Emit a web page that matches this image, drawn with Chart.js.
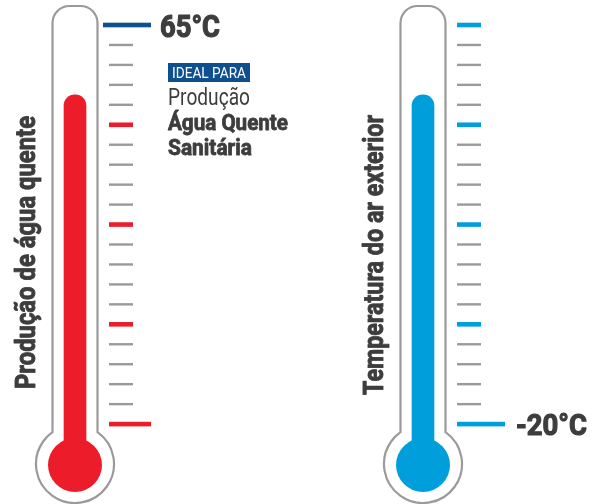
<!DOCTYPE html>
<html>
<head>
<meta charset="utf-8">
<script src="https://cdn.jsdelivr.net/npm/chart.js@4/dist/chart.umd.min.js"></script>
<style>
  html, body { margin: 0; padding: 0; background: #fff; }
  canvas { display: block; }
</style>
</head>
<body>
<canvas id="thermoChart" width="603" height="504"></canvas>
<script>
// thermometer data
const categories = ['Produção de água quente', 'Temperatura do ar exterior'];
const fillLevels = [16.5, 16.5];
const baseLevel = -2;
const tickLevels = [20, 19, 18, 17, 16, 15, 14, 13, 12, 11, 10, 9, 8, 7, 6, 5, 4, 3, 2, 1, 0];
const majorLevels = [20, 15, 10, 5, 0];
const scaleLabels = ['65°C', '-20°C'];
const scaleLabelLevels = [20, 0];
const noteLines = ['IDEAL PARA', 'Produção', 'Água Quente', 'Sanitária'];

const RED = '#ed1c2a';
const BLUE = '#009edb';
const NAVY = '#0d4f8f';
const GRAY = '#9a9a9a';
const TEXT = '#3d3d3d';
const fillColors = [RED, BLUE];

const FONT = 'Roboto, "Liberation Sans", sans-serif';

// draw text squeezed to a given width (condensed look), optional extra stroke for heavier weight
function fitText(ctx, txt, x, y, size, weight, width, align, color, heavy) {
    ctx.save();
    ctx.font = weight + ' ' + size + 'px ' + FONT;
    const w = ctx.measureText(txt).width;
    ctx.translate(x, y);
    ctx.scale(width / w, 1);
    ctx.textAlign = align || 'left';
    ctx.textBaseline = 'alphabetic';
    ctx.fillStyle = color || TEXT;
    ctx.fillText(txt, 0, 0);
    if (heavy) {
        ctx.lineWidth = heavy;
        ctx.lineJoin = 'round';
        ctx.strokeStyle = color || TEXT;
        ctx.strokeText(txt, 0, 0);
    }
    ctx.restore();
}

function tubePath(ctx, cx, top, hw, r, bulbY, bulbR) {
    const a = Math.asin(hw / bulbR);
    const join = bulbY - Math.sqrt(bulbR * bulbR - hw * hw);
    ctx.beginPath();
    ctx.moveTo(cx - hw, join);
    ctx.lineTo(cx - hw, top + r);
    ctx.arcTo(cx - hw, top, cx, top, r);
    ctx.arcTo(cx + hw, top, cx + hw, top + r, r);
    ctx.lineTo(cx + hw, join);
    ctx.arc(cx, bulbY, bulbR, -Math.PI / 2 + a, Math.PI * 1.5 - a, false);
    ctx.closePath();
}

const thermoPlugin = {
    id: 'thermo',
    beforeDatasetsDraw(chart) {
        const ctx = chart.ctx;
        const x = chart.scales.x;
        const y = chart.scales.y;
        const bulbY = y.getPixelForValue(baseLevel);
        categories.forEach((c, i) => {
            const cx = x.getPixelForValue(i);
            ctx.save();
            tubePath(ctx, cx, 6, 22.5, 17, bulbY, 39);
            ctx.fillStyle = '#fff';
            ctx.fill();
            ctx.lineWidth = 2.2;
            ctx.strokeStyle = GRAY;
            ctx.stroke();
            ctx.restore();
        });
    },
    afterDatasetsDraw(chart) {
        const ctx = chart.ctx;
        const x = chart.scales.x;
        const y = chart.scales.y;
        const bulbY = y.getPixelForValue(baseLevel);

        categories.forEach((c, i) => {
            const cx = x.getPixelForValue(i);
            // bulb
            ctx.beginPath();
            ctx.arc(cx, bulbY + 1, 27, 0, Math.PI * 2);
            ctx.fillStyle = fillColors[i];
            ctx.fill();

            // scale ticks
            tickLevels.forEach(lv => {
                const ty = y.getPixelForValue(lv);
                const major = majorLevels.includes(lv);
                let x0 = cx + 34, x1 = cx + 58;
                let col = major ? fillColors[i] : GRAY;
                if (lv === 0) {
                    x1 = cx + (i === 0 ? 76 : 82);
                }
                if (i === 0 && lv === 20) {
                    x0 = cx + 28; x1 = cx + 76; col = NAVY;
                }
                ctx.fillStyle = col;
                const h = major ? 4.6 : 2.4;
                ctx.fillRect(x0, ty - h / 2, x1 - x0, h);
            });

            // scale label
            const ly = y.getPixelForValue(scaleLabelLevels[i]);
            if (i === 0) {
                fitText(ctx, scaleLabels[i], cx + 85, ly + 12, 31, 'bold', 60, 'left', TEXT, 1.2);
            } else {
                fitText(ctx, scaleLabels[i], cx + 93, ly + 10.5, 30, 'bold', 71, 'left', TEXT, 1.2);
            }

            // vertical axis title
            ctx.save();
            ctx.translate(cx - 40, i === 0 ? 252.5 : 255);
            ctx.rotate(-Math.PI / 2);
            fitText(ctx, c, 0, 0, 28, 'bold', i === 0 ? 273 : 280, 'center', TEXT, 0.9);
            ctx.restore();
        });

        // note block
        const nx = x.getPixelForValue(0) + 93;
        ctx.fillStyle = NAVY;
        ctx.fillRect(nx, 63, 82, 19);
        fitText(ctx, noteLines[0], nx + 4, 78, 14, 'normal', 74, 'left', '#fff');
        fitText(ctx, noteLines[1], nx, 105, 23, 'normal', 82);
        fitText(ctx, noteLines[2], nx, 130, 22, 'bold', 120, 'left', TEXT, 0.8);
        fitText(ctx, noteLines[3], nx, 155, 22, 'bold', 84, 'left', TEXT, 0.8);
    }
};

new Chart(document.getElementById('thermoChart'), {
    type: 'bar',
    data: {
        labels: categories,
        datasets: [{
            data: fillLevels.map(v => [baseLevel, v]),
            backgroundColor: fillColors,
            barThickness: 22,
            borderRadius: { topLeft: 11, topRight: 11, bottomLeft: 0, bottomRight: 0 },
            borderSkipped: false,
            clip: false
        }]
    },
    options: {
        responsive: false,
        animation: false,
        devicePixelRatio: 1,
        layout: { padding: { left: 75, right: 180, top: 25, bottom: 40 } },
        scales: {
            x: { type: 'category', offset: false, display: false },
            y: { min: baseLevel, max: 20, display: false }
        },
        plugins: {
            legend: { display: false },
            tooltip: { enabled: false }
        }
    },
    plugins: [thermoPlugin]
});
</script>
</body>
</html>
